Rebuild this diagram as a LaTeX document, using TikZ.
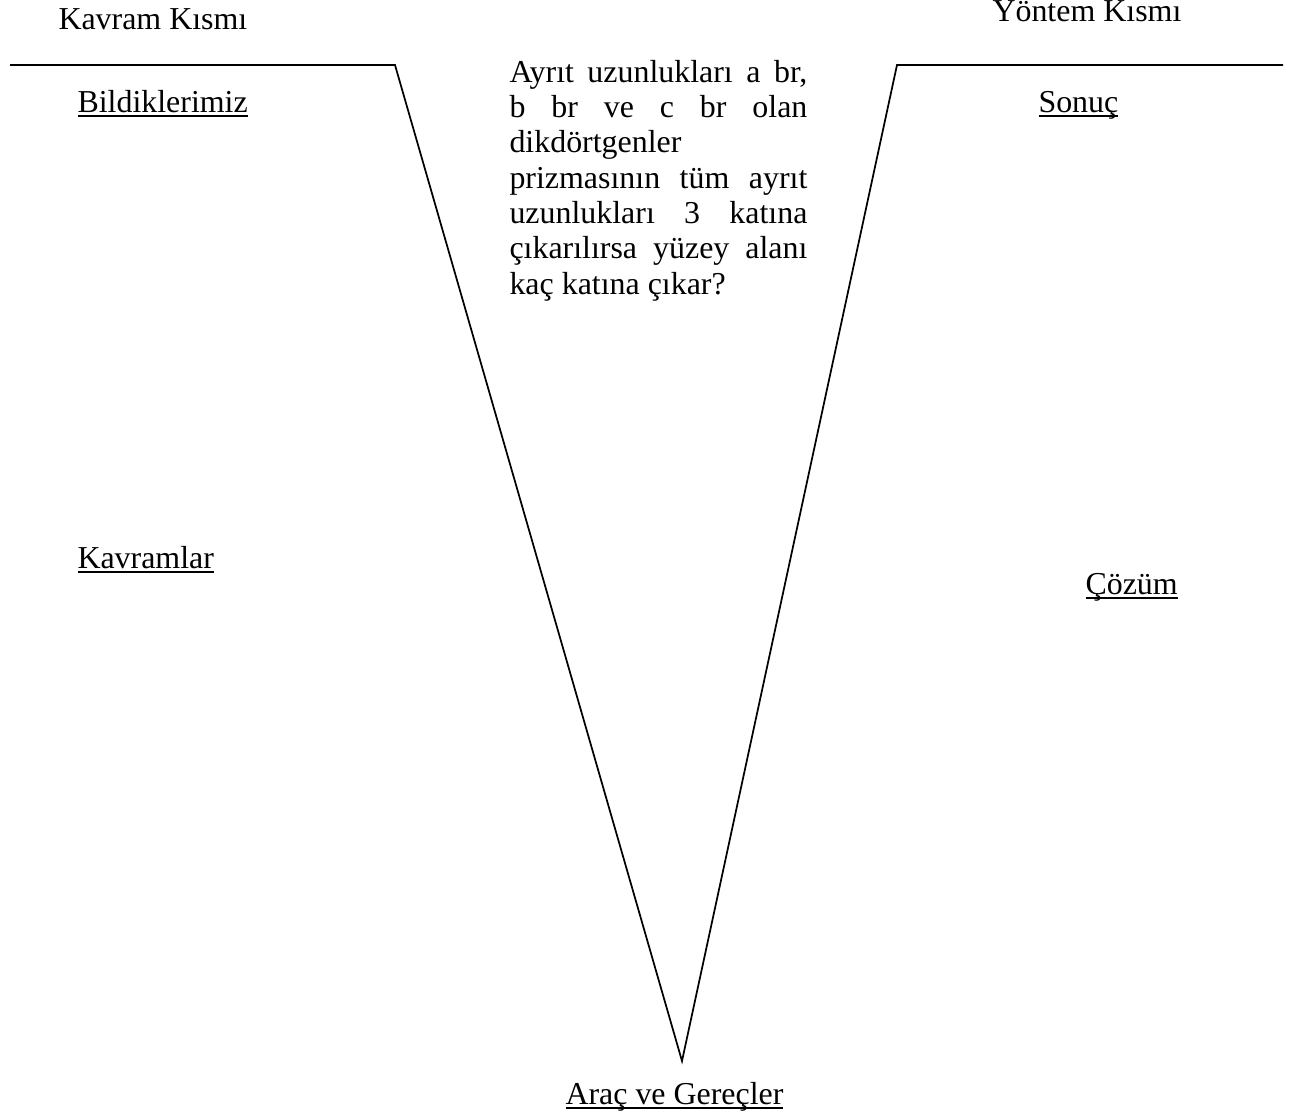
\documentclass[tikz,border=0pt]{standalone}
\usepackage{fontspec}
\setmainfont{Liberation Serif}
\newcommand\myul[1]{\setbox0=\hbox{#1}\rlap{\rule[-1.9pt]{\wd0}{0.75pt}}\box0}
\begin{document}
\begin{tikzpicture}[x=0.376pt,y=-0.376pt,
  lbl/.style={anchor=base west,inner sep=0pt,font=\fontsize{12pt}{13.3pt}\selectfont},
  vline/.style={line width=0.65pt}]
\useasboundingbox (0,0) rectangle (1292,1119);
\coordinate (l0) at (10,65);
\coordinate (l1) at (395,65);
\coordinate (tip) at (682,1061);
\coordinate (r1) at (897,65);
\coordinate (r0) at (1283,65);
\draw[vline] (l0) -- (l1) -- (tip) -- (r1) -- (r0);
\node[lbl] (kk) at (58,29) {Kavram Kısmı};
\node[lbl] (yk) at (992,21) {Yöntem Kısmı};
\node[lbl] (bil) at (77,112) {\myul{Bildiklerimiz}};
\node[lbl] (son) at (1038,112) {\myul{Sonuç}};
\node[lbl] (kav) at (77,568) {\myul{Kavramlar}};
\node[lbl] (coz) at (1085,594) {\myul{Çözüm}};
\node[lbl] (arac) at (565,1104) {\myul{Araç ve Gereçler}};
\node[lbl,text width=112pt,align=justify] (q) at (509,82) {Ayrıt uzunlukları a br,\linebreak b br ve c br olan\linebreak dikdörtgenler\newline prizmasının tüm ayrıt\linebreak uzunlukları 3 katına\linebreak çıkarılırsa yüzey alanı\linebreak kaç katına çıkar?};
\end{tikzpicture}
\end{document}
